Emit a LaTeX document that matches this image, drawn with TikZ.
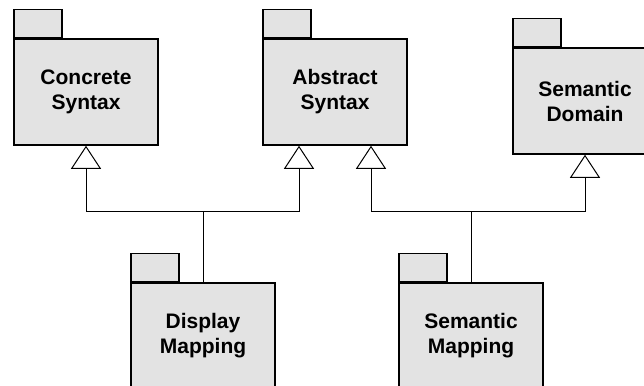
\documentclass[tikz,border=0pt]{standalone}
\usepackage{fontspec}
\setmainfont{Liberation Sans}
\usetikzlibrary{arrows.meta}
\definecolor{pkgfill}{HTML}{E3E3E3}
\tikzset{
  pkgbody/.style={draw=black, line width=1.5pt, fill=pkgfill, rectangle,
    minimum width=144pt, minimum height=106pt, inner sep=0pt, align=center,
    font=\fontsize{21}{25}\selectfont\bfseries},
  pkgtab/.style={draw=black, line width=1.5pt, fill=pkgfill, rectangle,
    minimum width=48pt, minimum height=28pt, inner sep=0pt, anchor=south west},
  genline/.style={draw=black, line width=1pt},
  genarrow/.style={genline, -{Triangle[open, width=30pt, length=23pt, line width=1pt]}}
}
\begin{document}
\begin{tikzpicture}[x=1pt, y=-1pt]
\useasboundingbox (0,0) rectangle (644,385);
\clip (0,0) rectangle (644,385);
% packages
\node[pkgbody] (cs) at (86,92) {Concrete\\Syntax};
\node[pkgtab] (cst) at (cs.north west) {};
\node[pkgbody] (as) at (335,92) {Abstract\\Syntax};
\node[pkgtab] (ast) at (as.north west) {};
\node[pkgbody] (sd) at (585,101) {Semantic\\Domain};
\node[pkgtab] (sdt) at (sd.north west) {};
\node[pkgbody] (dm) at (203,336) {Display\\Mapping};
\node[pkgtab] (dmt) at (dm.north west) {};
\node[pkgbody] (sm) at (471,336) {Semantic\\Mapping};
\node[pkgtab] (smt) at (sm.north west) {};
% junctions
\coordinate (hd) at (203,211);
\coordinate (hs) at (471,211);
% generalisations
\draw[genline] (dm.north) -- (hd);
\draw[genarrow] (hd) -| (cs.south);
\draw[genarrow] (hd) -| ([xshift=-36pt]as.south);
\draw[genline] (sm.north) -- (hs);
\draw[genarrow] (hs) -| ([xshift=36pt]as.south);
\draw[genarrow] (hs) -| (sd.south);
\end{tikzpicture}
\end{document}
